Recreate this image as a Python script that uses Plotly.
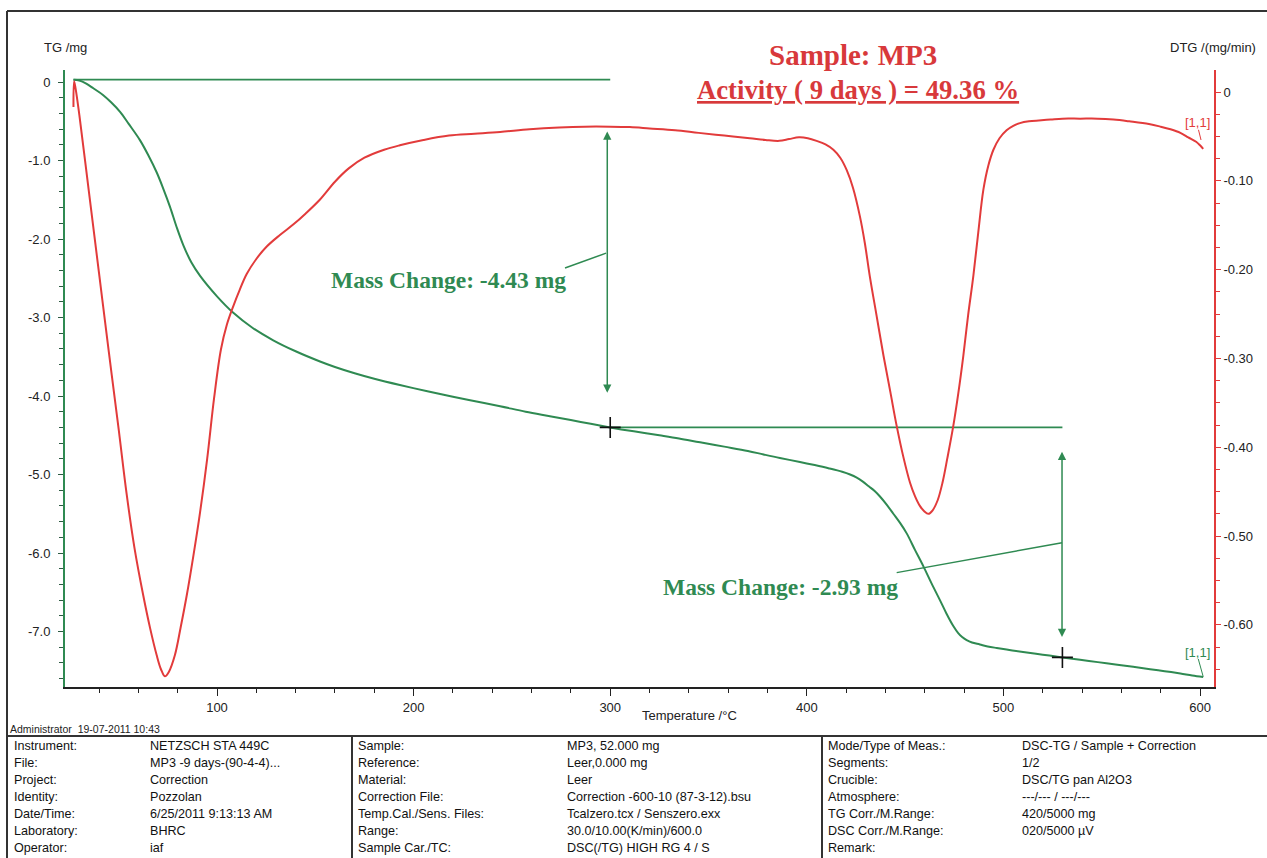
import numpy as np
import plotly.graph_objects as go

# ---------------- measured curves ----------------
# TG: sample mass change (mg) vs temperature (°C)
tg_temp = [27.0, 30, 33.5, 37.1, 42, 46, 50.7, 55, 60.8, 65, 69.3, 72.7, 76.1, 79.5,
           82.9, 87, 91.4, 100, 108.3, 118, 128.6, 140, 152.4, 160, 170, 180, 193, 207,
           220, 232, 244, 257, 270, 285, 300, 312, 325, 335, 345.7, 358, 370, 378, 386.3,
           396.5, 404, 411, 418, 422, 425.4, 428.5, 431.5, 434.5, 437.2, 440.5, 444,
           447.5, 450.8, 455, 459.3, 463.5, 467.7, 471, 474.5, 477, 479, 481.3, 484,
           488, 492, 496.6, 503, 510, 520, 530, 539, 548, 557, 566, 574.6, 582, 590,
           596, 601.6]
tg_mass = [0.03, 0.02, -0.02, -0.08, -0.165, -0.255, -0.38, -0.53, -0.74, -0.93, -1.15,
           -1.36, -1.59, -1.85, -2.08, -2.30, -2.47, -2.73, -2.94, -3.13, -3.29, -3.43,
           -3.56, -3.63, -3.71, -3.78, -3.86, -3.94, -4.01, -4.07, -4.13, -4.20, -4.26,
           -4.33, -4.40, -4.45, -4.50, -4.54, -4.59, -4.645, -4.70, -4.745, -4.79, -4.84,
           -4.88, -4.92, -4.965, -5.00, -5.04, -5.09, -5.15, -5.21, -5.28, -5.38, -5.50,
           -5.62, -5.75, -5.96, -6.17, -6.39, -6.60, -6.77, -6.93, -7.02, -7.07, -7.11,
           -7.14, -7.165, -7.19, -7.21, -7.235, -7.26, -7.295, -7.33, -7.36, -7.39,
           -7.42, -7.45, -7.48, -7.505, -7.535, -7.56, -7.58]

# DTG: rate of mass change (mg/min) vs temperature (°C)
dtg_temp = [27.0, 27.3, 28.0, 30, 35, 40, 45, 50, 54, 58, 62.5, 66, 69.3, 71.5, 73.5,
            75.5, 78.6, 81.5, 84.6, 88, 91.4, 95, 98.5, 102, 105, 108.3, 111.5, 115.1,
            120, 125.3, 132, 138.9, 145, 152.4, 160, 167, 175, 185, 193, 205, 218, 231,
            244, 259, 274, 287, 300, 310, 320, 333, 345, 358, 371, 379, 386, 391, 396,
            400.5, 405, 409.5, 413.5, 417, 420.3, 423.5, 427, 429.5, 432, 435.5, 439,
            442.5, 445.7, 449, 452.5, 455, 457.5, 459.7, 461.8, 464, 466.5, 469, 471.5,
            474.5, 477, 479.6, 482, 484.7, 487.2, 489.8, 492.3, 494.9, 498, 501.6,
            505, 508.4, 513, 518, 524, 530, 539, 548, 556, 564, 574, 580, 585, 590, 594,
            598, 600, 601.6]
dtg_rate = [-0.017, 0.012, 0.005, -0.026, -0.115, -0.204, -0.293, -0.38, -0.452,
            -0.513, -0.567, -0.604, -0.634, -0.650, -0.658, -0.653, -0.634, -0.603,
            -0.567, -0.522, -0.473, -0.413, -0.345, -0.290, -0.262, -0.241, -0.223,
            -0.205, -0.188, -0.174, -0.161, -0.149, -0.137, -0.121, -0.101, -0.086,
            -0.074, -0.065, -0.060, -0.054, -0.049, -0.047, -0.045, -0.042, -0.040,
            -0.039, -0.039, -0.0395, -0.041, -0.043, -0.046, -0.049, -0.052, -0.054,
            -0.055, -0.053, -0.051, -0.052, -0.055, -0.059, -0.065, -0.074, -0.088,
            -0.108, -0.140, -0.170, -0.207, -0.252, -0.297, -0.338, -0.376, -0.410,
            -0.440, -0.455, -0.466, -0.472, -0.475, -0.471, -0.460, -0.440, -0.412,
            -0.376, -0.340, -0.297, -0.252, -0.207, -0.158, -0.110, -0.083,
            -0.065, -0.052, -0.043, -0.038, -0.035, -0.033, -0.032, -0.031, -0.030,
            -0.030, -0.030, -0.031, -0.033, -0.036, -0.039, -0.042, -0.046, -0.051,
            -0.056, -0.060, -0.064]

# ---------------- evaluation ----------------
tg_baseline = 0.03          # initial mass level (mg)
mass_change_1 = -4.43       # mg, up to 300 °C
mass_change_2 = -2.93       # mg, 300 -> 530 °C
step_temps = [27.0, 300.0, 530.0]

# ---------------- axes ----------------
temp_ticks = [100, 200, 300, 400, 500, 600]
tg_ticks = [0, -1, -2, -3, -4, -5, -6, -7]
tg_ticktext = ["0", "-1.0", "-2.0", "-3.0", "-4.0", "-5.0", "-6.0", "-7.0"]
dtg_ticks = [0, -0.1, -0.2, -0.3, -0.4, -0.5, -0.6]
dtg_ticktext = ["0", "-0.10", "-0.20", "-0.30", "-0.40", "-0.50", "-0.60"]

# ---------------- report header table ----------------
info_labels_1 = ["Instrument:", "File:", "Project:", "Identity:", "Date/Time:",
                 "Laboratory:", "Operator:"]
info_values_1 = ["NETZSCH STA 449C", "MP3 -9 days-(90-4-4)...", "Correction", "Pozzolan",
                 "6/25/2011 9:13:13 AM", "BHRC", "iaf"]
info_labels_2 = ["Sample:", "Reference:", "Material:", "Correction File:",
                 "Temp.Cal./Sens. Files:", "Range:", "Sample Car./TC:"]
info_values_2 = ["MP3, 52.000 mg", "Leer,0.000 mg", "Leer",
                 "Correction -600-10 (87-3-12).bsu", "Tcalzero.tcx / Senszero.exx",
                 "30.0/10.00(K/min)/600.0", "DSC(/TG) HIGH RG 4 / S"]
info_labels_3 = ["Mode/Type of Meas.:", "Segments:", "Crucible:", "Atmosphere:",
                 "TG Corr./M.Range:", "DSC Corr./M.Range:", "Remark:"]
info_values_3 = ["DSC-TG / Sample + Correction", "1/2", "DSC/TG pan Al2O3",
                 "---/--- / ---/---", "420/5000 mg", "020/5000 µV", ""]

GREEN = "#2f8a52"
RED = "#e23b3b"
TITLE_RED = "#d8393b"
SANS = "Liberation Sans, Arial, sans-serif"
SERIF = "Liberation Serif, Times New Roman, serif"

W, H = 1267, 858
PL, PT, PW, PH = 65, 70, 1149, 617


def px(x):
    return (x - PL) / PW


def py(y):
    return (PT + PH - y) / PH


def page_text(x, y, text, size, color="#222", family=SANS, xanchor="center"):
    return dict(x=px(x), y=py(y), xref="paper", yref="paper", showarrow=False,
                xanchor=xanchor, yanchor="middle", text=text,
                font=dict(family=family, size=size, color=color))


fig = go.Figure()

# step evaluation levels
level_1 = tg_baseline
level_2 = tg_baseline + mass_change_1
level_3 = level_2 + mass_change_2
fig.add_trace(go.Scatter(x=step_temps[:2], y=[level_1, level_1], mode="lines",
                         line=dict(color=GREEN, width=1.6), yaxis="y", hoverinfo="skip"))
fig.add_trace(go.Scatter(x=step_temps[1:], y=[level_2, level_2], mode="lines",
                         line=dict(color=GREEN, width=1.6), yaxis="y", hoverinfo="skip"))

fig.add_trace(go.Scatter(x=tg_temp, y=tg_mass, mode="lines", name="TG",
                         line=dict(color=GREEN, width=2, shape="spline", smoothing=1.0),
                         yaxis="y"))
fig.add_trace(go.Scatter(x=dtg_temp, y=dtg_rate, mode="lines", name="DTG",
                         line=dict(color=RED, width=2, shape="spline", smoothing=1.0),
                         yaxis="y2"))

# evaluation points
fig.add_trace(go.Scatter(x=step_temps[1:], y=[level_2, level_3], mode="markers",
                         marker=dict(symbol="cross-thin", size=15,
                                     line=dict(color="#111", width=1.6)),
                         yaxis="y", hoverinfo="skip"))

annotations = []
shapes = []

# double arrows marking the two mass steps
for xa, y_top, y_bot in [(298.5, -0.61, -3.96), (529.8, -4.69, -7.07)]:
    annotations.append(dict(x=xa, y=y_bot, ax=xa, ay=y_top, xref="x", yref="y",
                            axref="x", ayref="y", text="", showarrow=True,
                            arrowhead=2, startarrowhead=2, arrowside="end+start",
                            arrowsize=1.1, startarrowsize=1.1, arrowwidth=1.5,
                            arrowcolor=GREEN, standoff=0, startstandoff=0))

# leader lines to the step labels
shapes.append(dict(type="line", xref="x", yref="y", x0=297.9, y0=-2.18, x1=277.0, y1=-2.37,
                   line=dict(color=GREEN, width=1.5)))
shapes.append(dict(type="line", xref="x", yref="y", x0=529.8, y0=-5.87, x1=445.7, y1=-6.25,
                   line=dict(color=GREEN, width=1.5)))

annotations.append(dict(x=217.6, y=-2.52, xref="x", yref="y", showarrow=False,
                        xanchor="center", yanchor="middle",
                        text=f"<b>Mass Change: {mass_change_1:.2f} mg</b>",
                        font=dict(family=SERIF, size=23.5, color=GREEN)))
annotations.append(dict(x=386.4, y=-6.43, xref="x", yref="y", showarrow=False,
                        xanchor="center", yanchor="middle",
                        text=f"<b>Mass Change: {mass_change_2:.2f} mg</b>",
                        font=dict(family=SERIF, size=23.5, color=GREEN)))

# segment markers at the curve ends
annotations.append(dict(x=598.5, y=-0.034, xref="x", yref="y2", showarrow=False,
                        xanchor="center", yanchor="middle",
                        text="[1,1]", font=dict(family=SANS, size=13, color=RED)))
shapes.append(dict(type="line", xref="x", yref="y2", x0=599.2, y0=-0.0425, x1=600.5, y1=-0.054,
                   line=dict(color=RED, width=1)))
annotations.append(dict(x=598.5, y=-7.27, xref="x", yref="y", showarrow=False,
                        xanchor="center", yanchor="middle",
                        text="[1,1]", font=dict(family=SANS, size=13, color=GREEN)))
shapes.append(dict(type="line", xref="x", yref="y", x0=599.1, y0=-7.35, x1=601.6, y1=-7.575,
                   line=dict(color=GREEN, width=1)))

# titles
annotations.append(page_text(853, 55, "<b>Sample: MP3</b>", 29, TITLE_RED, SERIF))
annotations.append(page_text(857.5, 90, "<b><u>Activity ( 9 days ) = 49.36 %</u></b>",
                             26.7, TITLE_RED, SERIF))

# axis titles
annotations.append(page_text(65, 47, "TG /mg", 13))
annotations.append(page_text(1213, 47, "DTG /(mg/min)", 13))
annotations.append(page_text(689, 715, "Temperature /°C", 13))

# report footer
annotations.append(page_text(8, 729, "Administrator  19-07-2011 10:43", 10.5, xanchor="left"))
row_y0, row_dy = 745.5, 17.0
for labels, values, xl, xv in [(info_labels_1, info_values_1, 12, 148),
                               (info_labels_2, info_values_2, 356, 565),
                               (info_labels_3, info_values_3, 826, 1020)]:
    for i, (lab, val) in enumerate(zip(labels, values)):
        yy = row_y0 + i * row_dy
        annotations.append(page_text(xl, yy, lab, 12.6, "#111", xanchor="left"))
        if val:
            annotations.append(page_text(xv, yy, val, 12.6, "#111", xanchor="left"))

# page frame and footer grid
frame = dict(color="#333", width=2)
shapes += [
    dict(type="line", xref="paper", yref="paper", x0=px(7), x1=px(1267), y0=py(11), y1=py(11), line=frame),
    dict(type="line", xref="paper", yref="paper", x0=px(7), x1=px(7), y0=py(11), y1=py(858), line=frame),
    dict(type="line", xref="paper", yref="paper", x0=px(7), x1=px(1267), y0=py(736), y1=py(736), line=frame),
    dict(type="line", xref="paper", yref="paper", x0=px(352), x1=px(352), y0=py(736), y1=py(858), line=frame),
    dict(type="line", xref="paper", yref="paper", x0=px(822), x1=px(822), y0=py(736), y1=py(858), line=frame),
]

fig.update_layout(
    width=W, height=H, autosize=False,
    margin=dict(l=PL, r=W - PL - PW, t=PT, b=H - PT - PH, pad=0),
    paper_bgcolor="white", plot_bgcolor="white",
    showlegend=False,
    xaxis=dict(range=[22.69, 607.1], showgrid=False, zeroline=False,
               showline=True, linecolor="#222", linewidth=2,
               ticks="outside", ticklen=7, tickwidth=1.3, tickcolor="#222",
               tickvals=temp_ticks, tickfont=dict(family=SANS, size=13, color="#222"),
               minor=dict(dtick=20, tick0=0, ticks="outside", ticklen=4, tickcolor="#222",
                          tickwidth=1.2)),
    yaxis=dict(range=[-7.707, 0.153], showgrid=False, zeroline=False,
               showline=True, linecolor=GREEN, linewidth=2,
               ticks="outside", ticklen=5, tickwidth=1.3, tickcolor="#2d5a42",
               tickvals=tg_ticks, ticktext=tg_ticktext, ticklabelstandoff=5,
               tickfont=dict(family=SANS, size=13, color="#222"),
               minor=dict(dtick=0.2, tick0=0, ticks="outside", ticklen=4,
                          tickcolor="#2d5a42", tickwidth=1.2)),
    yaxis2=dict(range=[-0.670, 0.0248], overlaying="y", side="right",
                showgrid=False, zeroline=False,
                showline=True, linecolor=RED, linewidth=1.6,
                ticks="outside", ticklen=5, tickwidth=1.3, tickcolor=RED,
                tickvals=dtg_ticks, ticktext=dtg_ticktext,
                tickfont=dict(family=SANS, size=13, color="#222"),
                minor=dict(dtick=0.025, tick0=0, ticks="outside", ticklen=4,
                           tickcolor=RED, tickwidth=1.2)),
    annotations=annotations,
    shapes=shapes,
)

fig.write_html("out.html")
